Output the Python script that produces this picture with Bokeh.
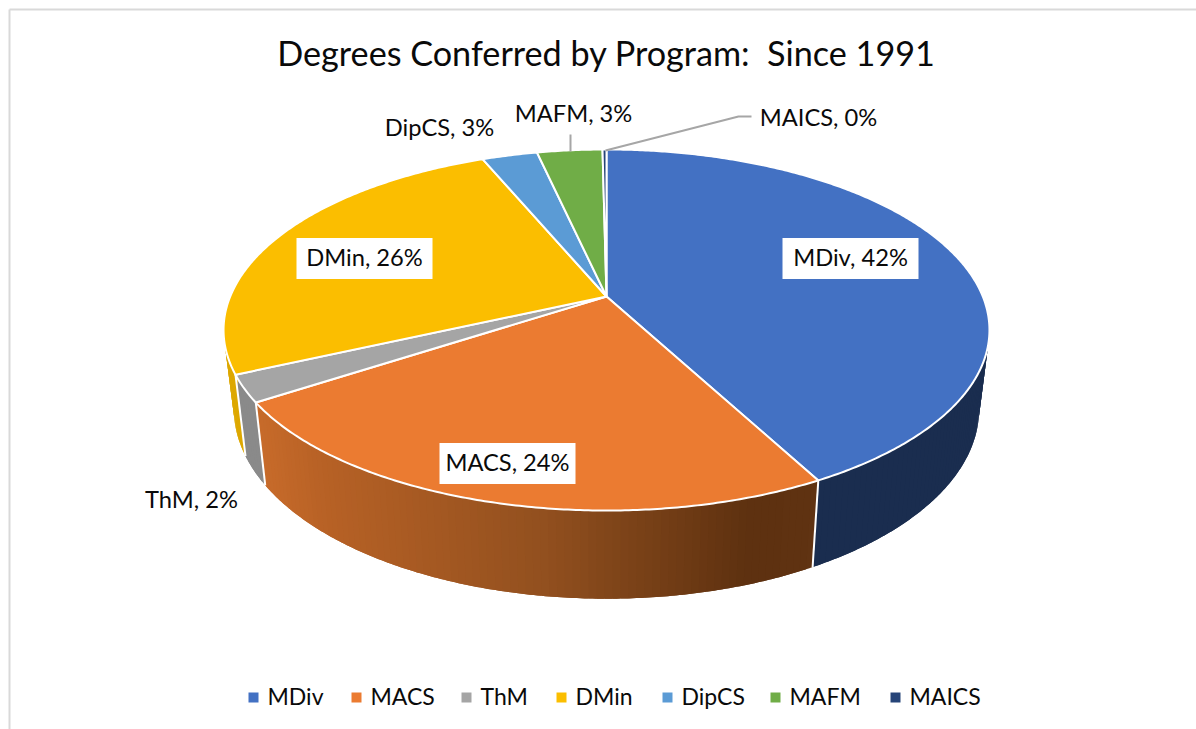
import numpy as np
from bokeh.core.properties import value
from bokeh.embed import file_html
from bokeh.plotting import figure
from bokeh.resources import INLINE

TITLE = "Degrees Conferred by Program:\u00a0 Since 1991"
categories = ["MDiv", "MACS", "ThM", "DMin", "DipCS", "MAFM", "MAICS"]
shares = [42.2, 23.6, 2.4, 25.5, 2.8, 3.3, 0.2]
colors = ["#4371C3", "#EB7B31", "#A5A5A5", "#FBBE00", "#5B9BD5", "#70AD47", "#264478"]

FONT = "Lato"
TEXT = "#0a0a0a"
LX, LY = [850, 507, 191, 364, 439, 573, 818], [256, 461, 498, 256, 126, 112, 116]
LEGX = [253, 356, 466, 561, 667, 775, 895]

# projected pie geometry (pixel-space ranges)
CX, CY, A, B, K = 606.0, 296.0, 376.3, 174.3, -0.1856
SX, SY, DY = 0.973, 1.05, 77.5


def rim(theta):
    X, Y = np.sin(theta), -np.cos(theta)
    d = 1 + K * Y
    return X * A / d, Y * B / d


def top(theta):
    x, y = rim(theta)
    return CX + x, CY + y


def bottom(theta):
    x, y = rim(theta)
    return CX + x * SX, CY + DY + y * SY


edges = np.concatenate([[0.0], np.cumsum(shares)]) / sum(shares) * 2 * np.pi

p = figure(width=1196, height=729, x_range=(0, 1196), y_range=(729, 0),
           output_backend="svg", toolbar_location=None, min_border=0,
           background_fill_color="white", border_fill_color="white", outline_line_color=None)
p.axis.visible = False
p.grid.visible = False

# chart frame
p.line([9, 9], [729, 9], line_color="#D9D9D9", line_width=2)
p.line([9, 1196], [9, 9], line_color="#D9D9D9", line_width=2)

# side walls: overlapping bands, so that the union gives the true silhouette
wall_flat = {"MDiv": "#1A2D4F", "ThM": "#8A8A8A", "DMin": "#DDA800"}
stops_x = [262, 330, 550, 750, 812]
stops_rgb = np.array([[201, 108, 43], [184, 98, 38], [146, 80, 31], [94, 49, 16], [96, 51, 18]])
wx, wy, wc = [], [], []
for i, name in enumerate(categories[:4]):
    a0 = max(edges[i], np.radians(60))
    a1 = min(edges[i + 1], np.radians(300))
    n = max(4, int(np.degrees(a1 - a0)))
    th = np.linspace(a0, a1, n + 1)
    for j, t0 in enumerate(th[:-1]):
        t1 = th[min(j + 2, n)]
        seg = np.linspace(t0, t1, 5)
        tx, ty = top(seg)
        bx, by = bottom(seg)
        wx.append([*tx, *bx[::-1]])
        wy.append([*ty, *by[::-1]])
        if name == "MACS":
            mx = float(bottom(np.array([t0]))[0][0])
            rgb = [int(np.interp(mx, stops_x, stops_rgb[:, k])) for k in range(3)]
            wc.append("#%02x%02x%02x" % tuple(rgb))
        else:
            wc.append(wall_flat[name])
p.patches(xs=wx, ys=wy, fill_color=wc, line_color=None)

# white seams between the walls
for e in edges[1:4]:
    tx, ty = top(e)
    bx, by = bottom(e)
    p.line([tx, bx], [ty, by], line_color="white", line_width=2)

# top faces
fx, fy = [], []
for i in range(len(categories)):
    th = np.linspace(edges[i], edges[i + 1], max(2, int((edges[i + 1] - edges[i]) / np.radians(0.5))))
    x, y = top(th)
    fx.append([CX, *x])
    fy.append([CY, *y])
p.patches(xs=fx, ys=fy, fill_color=colors, line_color="white", line_width=2, line_join="round")

# leader lines
p.line([570, 570], [134, 151], line_color="#A6A6A6", line_width=2)
p.line([605, 738, 751], [150, 116, 116], line_color="#A6A6A6", line_width=2)

# white label plates for labels inside the pie
for i in (0, 1, 3):
    hw = 68
    p.quad(left=[LX[i] - hw], right=[LX[i] + hw], top=[LY[i] - 18.5], bottom=[LY[i] + 22.5],
           fill_color="white", line_color=None)

labels = [f"{c}, {round(v)}%" for c, v in zip(categories, shares)]
p.text(x=LX, y=LY, text=labels, text_font=value(FONT), text_font_size="23.7px", text_color=TEXT,
       text_align="center", text_baseline="middle")

# title
p.text(x=[606], y=[52], text=[TITLE], text_font=value(FONT), text_font_size="34.2px", text_color=TEXT,
       text_align="center", text_baseline="middle")

# legend
legy = [697] * len(categories)
p.rect(x=LEGX, y=legy, width=10, height=10, fill_color=colors, line_color=None)
p.text(x=[v + 14 for v in LEGX], y=[v - 2 for v in legy], text=categories, text_font=value(FONT),
       text_font_size="23px", text_color=TEXT, text_align="left", text_baseline="middle")

open("out.html", "w").write(file_html(p, INLINE))
